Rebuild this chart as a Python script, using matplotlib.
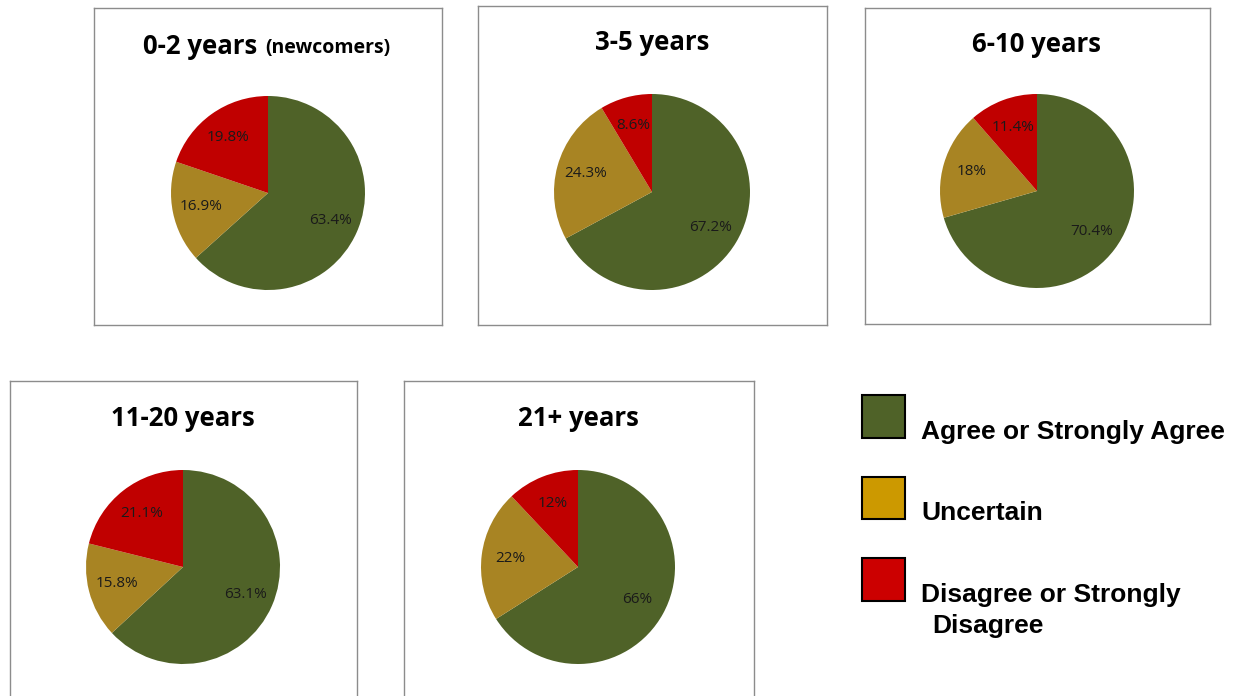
import matplotlib
matplotlib.use("Agg")
import matplotlib.pyplot as plt
from matplotlib.patches import Rectangle

W, H = 1235, 696

categories = ["Agree or Strongly Agree", "Uncertain", "Disagree or Strongly Disagree"]
groups = ["0-2 years", "3-5 years", "6-10 years", "11-20 years", "21+ years"]
agree = [63.4, 67.2, 70.4, 63.1, 66]
uncertain = [16.9, 24.3, 18, 15.8, 22]
disagree = [19.8, 8.6, 11.4, 21.1, 12]

pie_colors = ["#4F6228", "#A88423", "#C00000"]
legend_colors = ["#4F6228", "#CC9900", "#CC0000"]

# layout in pixels: box (x0, y0, x1, y1), pie center (cx, cy), radius, title y
layout = [
    ((94, 8, 442, 325), (268, 193), 97, 47),
    ((478, 6, 827, 325), (652, 192), 98, 43),
    ((865, 8, 1210, 324), (1037, 191), 97, 44),
    ((10, 381, 357, 730), (183, 567), 97, 418),
    ((404, 381, 754, 730), (578, 567), 97, 418),
]

fig = plt.figure(figsize=(W / 100, H / 100), dpi=100)
fig.patch.set_facecolor("white")

def fx(x):
    return x / W

def fy(y):
    return 1 - y / H

title_font = dict(family="Open Sans", weight="bold", color="black")
label_font = ["Open Sans", "DejaVu Sans"]

for i, (box, (cx, cy), r, ty) in enumerate(layout):
    x0, y0, x1, y1 = box
    bax = fig.add_axes([fx(x0), fy(y1), (x1 - x0) / W, (y1 - y0) / H])
    bax.set_xticks([])
    bax.set_yticks([])
    for s in bax.spines.values():
        s.set_color("#8C8C8C")
        s.set_linewidth(1.0)
    bax.set_facecolor("white")

    if i == 0:
        fig.text(fx(143), fy(ty), groups[i], ha="left", va="center", fontsize=18.5, **title_font)
        fig.text(fx(265), fy(ty + 1), "(newcomers)", ha="left", va="center", fontsize=14, **title_font)
    else:
        fig.text(fx(cx), fy(ty), groups[i], ha="center", va="center", fontsize=18.5, **title_font)

    pax = fig.add_axes([fx(cx - r), fy(cy + r), 2 * r / W, 2 * r / H])
    vals = [agree[i], uncertain[i], disagree[i]]
    labs = [f"{v:g}%" for v in vals]
    pax.pie(vals, colors=pie_colors, startangle=90, counterclock=False, radius=1,
            labels=labs, labeldistance=0.7,
            wedgeprops=dict(linewidth=0),
            textprops=dict(ha="center", va="center", fontsize=11,
                           family=label_font, color="#1A1A1A"))
    pax.set_xlim(-1, 1)
    pax.set_ylim(-1, 1)
    pax.set_axis_off()

# legend
sq = [(862, 395, 905, 438), (862, 477, 905, 519), (862, 558, 905, 601)]
for (a, b, c, d), col in zip(sq, legend_colors):
    fig.add_artist(Rectangle((fx(a), fy(d)), (c - a) / W, (d - b) / H,
                             transform=fig.transFigure, facecolor=col,
                             edgecolor="black", linewidth=1.5))

leg_font = dict(family="Liberation Sans", weight="bold", fontsize=19, color="black",
                ha="left", va="baseline")
fig.text(fx(921), fy(439), categories[0], **leg_font)
fig.text(fx(921), fy(520), categories[1], **leg_font)
fig.text(fx(921), fy(602), "Disagree or Strongly", **leg_font)
fig.text(fx(932), fy(633), "Disagree", **leg_font)

fig.savefig("out.png", dpi=100, facecolor="white")
